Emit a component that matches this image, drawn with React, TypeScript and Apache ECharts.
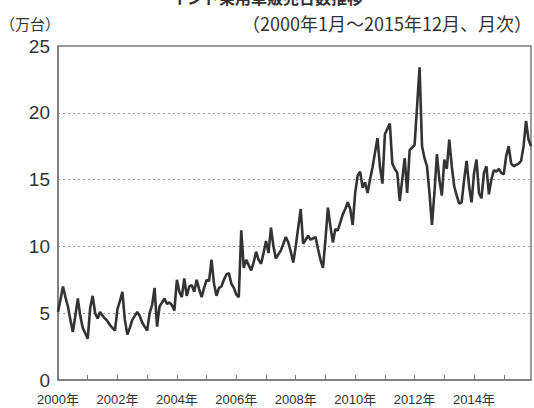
import React, { useEffect, useRef } from "react";
import * as echarts from "echarts";

const years = [2000, 2001, 2002, 2003, 2004, 2005, 2006, 2007, 2008, 2009, 2010, 2011, 2012, 2013, 2014, 2015];
const v2000 = [5.1, 6.0, 7.0, 6.2, 5.5, 4.5, 3.6, 4.8, 6.1, 4.8, 3.9, 3.5];
const v2001 = [3.1, 5.4, 6.3, 5.0, 4.6, 5.1, 4.8, 4.6, 4.4, 4.1, 3.9, 3.7];
const v2002 = [5.3, 5.9, 6.6, 4.5, 3.4, 3.9, 4.5, 4.8, 5.1, 4.8, 4.3, 4.0];
const v2003 = [3.7, 5.0, 5.6, 6.9, 4.0, 5.5, 5.8, 6.1, 5.7, 5.8, 5.6, 5.2];
const v2004 = [7.5, 6.6, 6.2, 7.6, 6.3, 7.0, 7.1, 6.6, 7.5, 6.8, 6.2, 6.9];
const v2005 = [7.5, 7.4, 9.0, 7.2, 6.3, 6.9, 7.0, 7.5, 7.9, 8.0, 7.2, 6.9];
const v2006 = [6.4, 6.2, 11.2, 8.4, 9.0, 8.6, 8.2, 8.8, 9.6, 9.0, 8.7, 9.5];
const v2007 = [10.4, 9.5, 11.4, 10.0, 9.1, 9.4, 9.7, 10.2, 10.7, 10.3, 9.6, 8.8];
const v2008 = [10.0, 11.4, 12.8, 10.2, 10.5, 10.8, 10.5, 10.6, 10.7, 9.8, 9.0, 8.4];
const v2009 = [10.5, 12.9, 11.5, 10.3, 11.3, 11.2, 11.8, 12.4, 12.8, 13.3, 12.8, 11.6];
const v2010 = [14.0, 15.3, 15.6, 14.4, 14.8, 14.0, 15.0, 15.9, 17.0, 18.1, 16.0, 14.7];
const v2011 = [18.4, 18.8, 19.2, 16.2, 15.8, 15.5, 13.4, 15.0, 16.6, 14.0, 17.2, 17.4];
const v2012 = [17.6, 20.5, 23.4, 17.5, 16.6, 16.0, 14.0, 11.6, 14.0, 16.9, 15.0, 13.8];
const v2013 = [16.5, 15.8, 18.0, 16.0, 14.5, 13.8, 13.2, 13.3, 15.0, 16.4, 14.5, 13.3];
const v2014 = [15.5, 16.5, 14.0, 13.6, 15.5, 16.0, 13.9, 15.0, 15.7, 15.6, 15.8, 15.5];
const v2015 = [15.4, 16.8, 17.5, 16.2, 16.0, 16.1, 16.2, 16.4, 17.5, 19.4, 18.0, 17.5];

const yTicks = [0, 5, 10, 15, 20, 25];
const titleText = "インド乗用車販売台数推移";
const unitText = "（万台）";
const periodText = "（2000年1月～2015年12月、月次）";

const values = [
  v2000, v2001, v2002, v2003, v2004, v2005, v2006, v2007,
  v2008, v2009, v2010, v2011, v2012, v2013, v2014, v2015,
].flat();

const categories: string[] = [];
years.forEach((y) => {
  for (let m = 1; m <= 12; m++) categories.push(`${y}-${m < 10 ? "0" + m : m}`);
});

export default function App() {
  const ref = useRef<HTMLDivElement>(null);
  useEffect(() => {
    if (!ref.current) return;
    const chart = echarts.init(ref.current, undefined, { renderer: "svg" });
    const cjk = "'Noto Sans CJK JP', 'Liberation Sans', sans-serif";
    chart.setOption({
      animation: false,
      backgroundColor: "#ffffff",
      grid: {
        left: 58,
        right: 3,
        top: 46,
        bottom: 28,
        show: true,
        borderColor: "#7a7a7a",
        borderWidth: 1.5,
        backgroundColor: "transparent",
      },
      graphic: [
        {
          type: "text",
          left: "center",
          top: -11,
          style: { text: titleText, font: `bold 16px ${cjk}`, fill: "#333" },
        },
        {
          type: "text",
          left: 0,
          top: 16,
          style: { text: unitText, font: `15px ${cjk}`, fill: "#333" },
        },
        {
          type: "text",
          right: 2,
          top: 14,
          style: { text: periodText, font: `18px ${cjk}`, fill: "#333" },
        },
      ],
      xAxis: {
        type: "category",
        data: categories,
        boundaryGap: false,
        axisLine: { show: true, lineStyle: { color: "#7a7a7a", width: 1.5 } },
        axisTick: {
          show: true,
          inside: true,
          length: 5,
          interval: (index: number) => index % 12 === 0,
          lineStyle: { color: "#7a7a7a", width: 1 },
        },
        axisLabel: {
          interval: (index: number) => index % 24 === 0,
          formatter: (val: string) => val.slice(0, 4) + "年",
          fontFamily: "'Liberation Sans Narrow', 'Liberation Sans', 'Noto Sans CJK JP'",
          fontSize: 13,
          color: "#333",
          margin: 13,
        },
        splitLine: { show: false },
      },
      yAxis: {
        type: "value",
        min: yTicks[0],
        max: yTicks[yTicks.length - 1],
        interval: 5,
        axisLine: { show: true, lineStyle: { color: "#7a7a7a", width: 1.5 } },
        axisTick: { show: false },
        axisLabel: {
          fontFamily: "'Liberation Sans', sans-serif",
          fontSize: 19,
          color: "#333",
          margin: 8,
        },
        splitLine: {
          show: true,
          lineStyle: { color: "#9a9a9a", type: [2, 3], width: 1.2 },
        },
      },
      series: [
        {
          type: "line",
          data: values,
          showSymbol: false,
          symbol: "none",
          lineStyle: { color: "#333333", width: 2.6 },
        },
      ],
    });
    return () => chart.dispose();
  }, []);
  return (
    <div
      ref={ref}
      style={{ position: "fixed", left: 0, top: 0, width: 534, height: 408 }}
    />
  );
}
